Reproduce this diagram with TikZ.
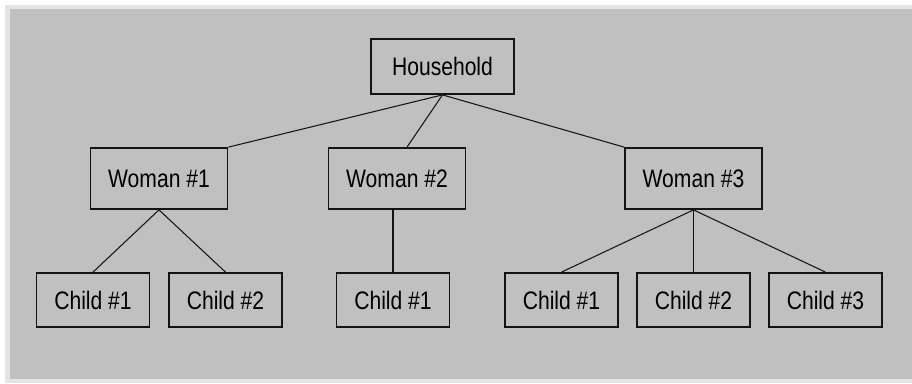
\documentclass[tikz,border=0pt]{standalone}
\usepackage{graphicx}
\usepackage{fontspec}
\setmainfont{Liberation Sans}
\usetikzlibrary{positioning}

\definecolor{panel}{HTML}{C0C0C0}
\definecolor{rim}{HTML}{E4E4E4}
\definecolor{ink}{HTML}{141414}

% taller, screen-like labels
\newcommand{\boxlabel}[1]{\scalebox{1}[1.2]{#1}}

\begin{document}
\begin{tikzpicture}[
        x=0.03cm, y=-0.03cm,
        box/.style={rectangle, draw=ink, line width=1.5pt, inner sep=0pt, font=\fontsize{18}{21}\selectfont, text=black},
        top_box/.style={box, minimum width=4.29cm, minimum height=1.65cm},
        woman/.style={box, minimum width=4.11cm, minimum height=1.83cm},
        child/.style={box, minimum width=3.39cm, minimum height=1.62cm},
        link/.style={draw=ink, line width=0.9pt}
    ]

    % --- Window background ---
    \fill[white] (0,0) rectangle (912,383);
    \fill[rim] (5,5) rectangle (912,383);
    \fill[panel] (10,9) rectangle (912,379);
    \useasboundingbox (0,0) rectangle (912,383);

    % --- Top level ---
    \node[top_box] (hh) at (442.5,66.5) {\boxlabel{Household}};

    % --- Women ---
    \node[woman] (w1) at (159,178.5) {\boxlabel{Woman \#1}};
    \node[woman] (w2) at (397,178.5) {\boxlabel{Woman \#2}};
    \node[woman] (w3) at (693.5,178.5) {\boxlabel{Woman \#3}};

    % --- Children ---
    \node[child] (c11) at (93,300) {\boxlabel{Child \#1}};
    \node[child] (c12) at (225.5,300) {\boxlabel{Child \#2}};
    \node[child] (c21) at (393,300) {\boxlabel{Child \#1}};
    \node[child] (c31) at (561.5,300) {\boxlabel{Child \#1}};
    \node[child] (c32) at (693.5,300) {\boxlabel{Child \#2}};
    \node[child] (c33) at (825.5,300) {\boxlabel{Child \#3}};

    % --- Connectors ---
    \draw[link] (hh.south) -- (w1.north east);
    \draw[link] (hh.south) -- ([xshift=0.3cm]w2.north);
    \draw[link] (hh.south) -- (w3.north west);

    \draw[link] (w1.south) -- (c11.north);
    \draw[link] (w1.south) -- (c12.north);
    \draw[link] (w2.south -| c21.north) -- (c21.north);
    \draw[link] (w3.south) -- (c31.north);
    \draw[link] (w3.south) -- (c32.north);
    \draw[link] (w3.south) -- (c33.north);

\end{tikzpicture}
\end{document}
